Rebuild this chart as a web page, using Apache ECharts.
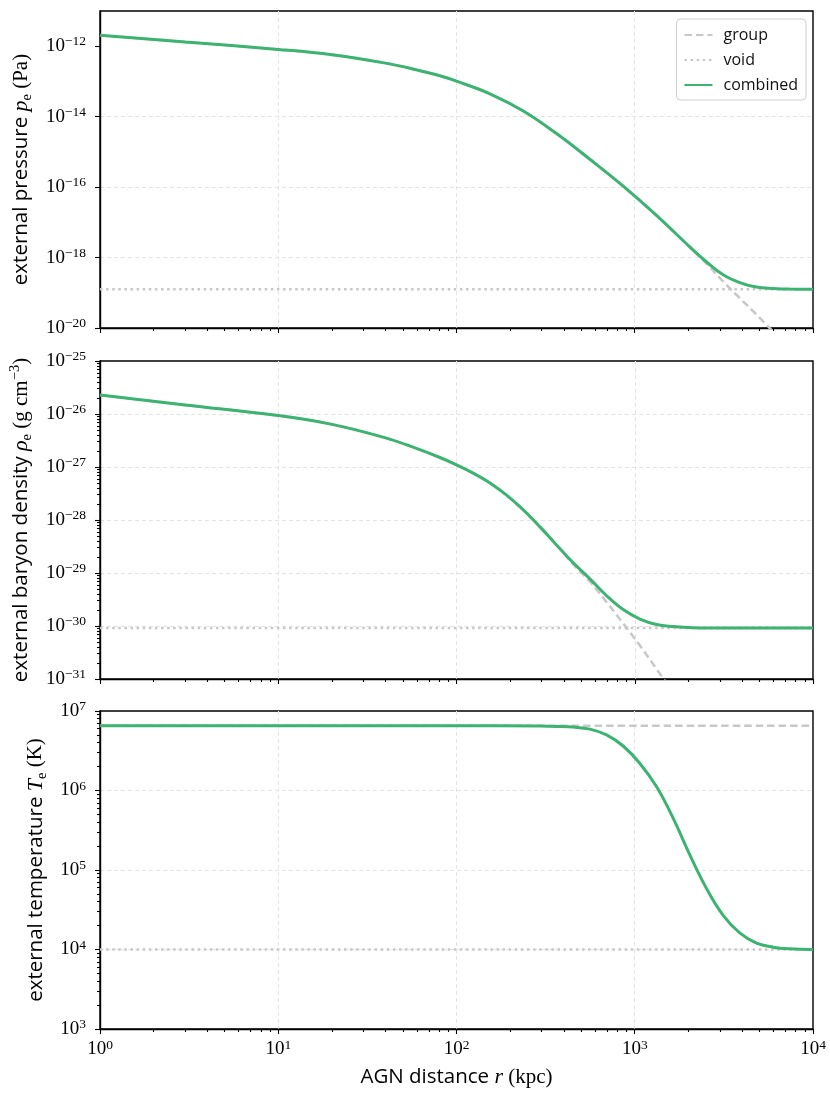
<!DOCTYPE html>
<html><head><meta charset="utf-8">
<script src="https://cdn.jsdelivr.net/npm/echarts@6/dist/echarts.min.js"></script>
<style>html,body{margin:0;padding:0;background:#fff}#c{width:830px;height:1107px}</style>
</head><body><div id="c"></div>
<script>
// ---------- data ----------
const xTickValues = [1, 10, 100, 1000, 10000];

const rPressure = [1, 3, 10, 20, 40, 58.5, 80.7, 100, 154, 237, 364, 560, 861, 1324, 2037, 2523, 3133, 3882, 4819, 5970, 7413, 10000];
const pressureCombined = [2.04e-12, 1.32e-12, 8.13e-13, 5.75e-13, 3.31e-13, 2.19e-13, 1.45e-13, 1.02e-13, 4.47e-14, 1.45e-14, 3.31e-15, 6.17e-16, 1.07e-16, 1.58e-17, 2.00e-18, 7.59e-19, 3.24e-19, 1.95e-19, 1.45e-19, 1.32e-19, 1.27e-19, 1.26e-19];
const rPressureGroup = [1, 3, 10, 20, 40, 58.5, 80.7, 100, 154, 237, 364, 560, 861, 1324, 2037, 2523, 3133, 3882, 4819, 5970];
const pressureGroup = [2.04e-12, 1.32e-12, 8.13e-13, 5.75e-13, 3.31e-13, 2.19e-13, 1.45e-13, 1.02e-13, 4.47e-14, 1.45e-14, 3.31e-15, 6.17e-16, 1.07e-16, 1.57e-17, 1.95e-18, 6.76e-19, 2.09e-19, 7.08e-20, 2.40e-20, 7.94e-21];
const rVoid = [1, 10000];
const pressureVoid = [1.26e-19, 1.26e-19];
const pressureTicks = [1e-20, 1e-18, 1e-16, 1e-14, 1e-12];

const rDensity = [1, 3, 10, 20, 40, 58.5, 80.7, 100, 124, 154, 191, 237, 294, 364, 452, 560, 695, 861, 1069, 1324, 1644, 2037, 2523, 10000];
const densityCombined = [2.29e-26, 1.48e-26, 9.33e-27, 6.38e-27, 3.55e-27, 2.29e-27, 1.51e-27, 1.10e-27, 7.67e-28, 5.01e-28, 2.95e-28, 1.55e-28, 7.41e-29, 3.39e-29, 1.55e-29, 7.76e-30, 3.72e-30, 2.04e-30, 1.35e-30, 1.07e-30, 9.77e-31, 9.33e-31, 9.12e-31, 9.12e-31];
const rDensityGroup = [1, 3, 10, 20, 40, 58.5, 80.7, 100, 124, 154, 191, 237, 294, 364, 452, 560, 695, 861, 1069, 1324, 1644];
const densityGroup = [2.29e-26, 1.48e-26, 9.33e-27, 6.38e-27, 3.55e-27, 2.29e-27, 1.51e-27, 1.10e-27, 7.67e-28, 5.01e-28, 2.95e-28, 1.55e-28, 7.41e-29, 3.39e-29, 1.45e-29, 6.92e-30, 2.82e-30, 1.12e-30, 4.27e-31, 1.55e-31, 5.5e-32];
const densityVoid = [9.12e-31, 9.12e-31];
const densityTicks = [1e-31, 1e-30, 1e-29, 1e-28, 1e-27, 1e-26, 1e-25];

const rTemperature = [1, 30, 100, 294, 364, 452, 560, 695, 861, 1069, 1324, 1644, 2037, 2523, 3133, 3882, 4819, 5970, 7413, 10000];
const temperatureCombined = [6.53e6, 6.53e6, 6.53e6, 6.46e6, 6.40e6, 6.27e6, 5.92e6, 5.01e6, 3.63e6, 2.19e6, 1.12e6, 4.47e5, 1.55e5, 5.89e4, 2.69e4, 1.62e4, 1.20e4, 1.07e4, 1.02e4, 1.0e4];
const temperatureGroup = [6.53e6, 6.53e6];
const temperatureVoid = [1e4, 1e4];
const temperatureTicks = [1e3, 1e4, 1e5, 1e6, 1e7];

const legendNames = ['group', 'void', 'combined'];

// ---------- styling / building ----------
const SANS = '"Open Sans", "Noto Sans", sans-serif';
const SERIF = '"Liberation Serif", "DejaVu Serif", serif';
const GREEN = '#3cb371';
const GRAY = '#c8c8c8';
const L = v => Math.log10(v);
const pairs = (xs, ys) => xs.map((x, i) => [x, L(ys[i])]);
const expStr = e => (e < 0 ? '\u2212' + (-e) : '' + e);
const minorsFromMajors = majors => {
  const out = [];
  for (let i = 0; i < majors.length - 1; i++) {
    const d = Math.round(L(majors[i]));
    for (let k = 2; k <= 9; k++) out.push(d + L(k));
  }
  return out;
};
const minorXs = (() => { const o = []; for (let i = 0; i < xTickValues.length - 1; i++) for (let k = 2; k <= 9; k++) o.push(k * xTickValues[i]); return o; })();

const grids = [
  { left: 100, top: 11, width: 713, height: 317 },
  { left: 100, top: 361, width: 713, height: 318 },
  { left: 100, top: 711, width: 713, height: 318 }
];

const tickRich = {
  b: { fontFamily: SERIF, fontSize: 19, lineHeight: 23, color: '#000' },
  s: { fontFamily: SERIF, fontSize: 13.5, lineHeight: 13, verticalAlign: 'top', color: '#000' }
};
const nameRich = {
  t: { fontFamily: SANS, fontSize: 20.5, lineHeight: 27, color: '#000' },
  m: { fontFamily: SERIF, fontStyle: 'italic', fontSize: 22, lineHeight: 27, color: '#000' },
  r: { fontFamily: SERIF, fontSize: 21, lineHeight: 27, color: '#000' },
  sub: { fontFamily: SERIF, fontSize: 14.5, lineHeight: 17, verticalAlign: 'bottom', color: '#000' },
  sup: { fontFamily: SERIF, fontSize: 14.5, lineHeight: 14, verticalAlign: 'top', color: '#000' }
};
const axisLineStyle = { color: '#000', width: 1.4 };
const tickLineStyle = { color: '#000', width: 1.1 };
const gridLineStyle = { color: '#e4e4e4', width: 1, type: [4, 3] };

const panels = [
  { min: -20, max: -11, interval: 2, ticks: pressureTicks, minor: false, nameGap: 63,
    name: '{t|external pressure }{m|p}{sub|e}{r| (Pa)}',
    group: pairs(rPressureGroup, pressureGroup), voidD: pairs(rVoid, pressureVoid), comb: pairs(rPressure, pressureCombined) },
  { min: -31, max: -25, interval: 1, ticks: densityTicks, minor: true, nameGap: 63,
    name: '{t|external baryon density }{m|\u03c1}{sub|e}{r| (g cm}{sup|\u22123}{r|)}',
    group: pairs(rDensityGroup, densityGroup), voidD: pairs(rVoid, densityVoid), comb: pairs(rDensity, densityCombined) },
  { min: 3, max: 7, interval: 1, ticks: temperatureTicks, minor: true, nameGap: 37,
    name: '{t|external temperature }{m|T}{sub|e}{r| (K)}',
    group: pairs(rVoid, temperatureGroup), voidD: pairs(rVoid, temperatureVoid), comb: pairs(rTemperature, temperatureCombined) }
];

const xAxes = [], yAxes = [], series = [];
panels.forEach((p, i) => {
  const last = i === 2;
  xAxes.push({
    type: 'log', logBase: 10, gridIndex: i, min: 1, max: 10000,
    axisLine: { onZero: false, lineStyle: axisLineStyle },
    axisTick: { show: true, length: 5, lineStyle: tickLineStyle, customValues: xTickValues },
    axisLabel: { show: last, margin: 9, customValues: xTickValues,
      formatter: v => '{b|10}{s|' + expStr(Math.round(L(v))) + '}', rich: tickRich },
    splitLine: { show: true, showMinLine: false, showMaxLine: false, lineStyle: gridLineStyle },
    name: last ? '{t|AGN distance }{m|r}{r| (kpc)}' : '',
    nameLocation: 'middle', nameGap: 35, nameTextStyle: { rich: nameRich }
  });
  const majors = p.ticks.map(v => Math.round(L(v)));
  yAxes.push({
    type: 'value', gridIndex: i, min: p.min, max: p.max, interval: p.interval,
    axisLine: { onZero: false, lineStyle: axisLineStyle },
    axisTick: { show: true, length: 5, lineStyle: tickLineStyle, customValues: majors },
    axisLabel: { margin: 14, customValues: majors,
      formatter: v => '{b|10}{s|' + expStr(Math.round(v)) + '}', rich: tickRich },
    splitLine: { show: true, showMinLine: false, showMaxLine: false, lineStyle: gridLineStyle },
    name: p.name, nameLocation: 'middle', nameRotate: 90, nameGap: p.nameGap,
    nameTextStyle: { rich: nameRich }
  });
  const sx = { xAxisIndex: i, yAxisIndex: i, type: 'line', showSymbol: false, symbol: 'none',
    clip: true, silent: true, animation: false };
  series.push(Object.assign({}, sx, { name: 'group', data: p.group, smooth: 0.4, z: 2,
    lineStyle: { color: GRAY, width: 2.5, type: [7.5, 4] }, itemStyle: { color: GRAY } }));
  series.push(Object.assign({}, sx, { name: 'void', data: p.voidD, z: 2,
    lineStyle: { color: GRAY, width: 2.5, type: [2.5, 3.6] }, itemStyle: { color: GRAY } }));
  series.push(Object.assign({}, sx, { name: 'combined', data: p.comb, smooth: 0.4, z: 3,
    lineStyle: { color: GREEN, width: 3 }, itemStyle: { color: GREEN } }));
});
// minor-tick helper axes (ticks only)
panels.forEach((p, i) => {
  xAxes.push({
    type: 'log', logBase: 10, gridIndex: i, min: 1, max: 10000, position: 'top', offset: -grids[i].height,
    axisLine: { show: false }, axisLabel: { show: false }, splitLine: { show: false },
    axisTick: { show: true, inside: true, length: 3, lineStyle: tickLineStyle, customValues: minorXs }
  });
  if (p.minor) {
    yAxes.push({
      type: 'value', gridIndex: i, min: p.min, max: p.max, position: 'right', offset: -grids[i].width,
      axisLine: { show: false }, axisLabel: { show: false }, splitLine: { show: false },
      axisTick: { show: true, inside: true, length: 3, lineStyle: tickLineStyle,
        customValues: minorsFromMajors(p.ticks) }
    });
  }
});

const chart = echarts.init(document.getElementById('c'));
chart.setOption({
  animation: false,
  backgroundColor: '#fff',
  grid: grids.map(g => Object.assign({ show: true, borderColor: '#000', borderWidth: 1.4, containLabel: false }, g)),
  legend: {
    data: legendNames, orient: 'vertical', right: 24, top: 19,
    itemWidth: 28, itemHeight: 14, itemGap: 7, padding: [7, 8, 6, 7],
    borderColor: '#d0d0d0', borderWidth: 1, borderRadius: 4, backgroundColor: '#fff',
    itemStyle: { opacity: 0, borderWidth: 0 },
    textStyle: { fontFamily: SANS, fontSize: 16, color: '#111', lineHeight: 18, padding: [0, 0, 0, 6] }
  },
  xAxis: xAxes,
  yAxis: yAxes,
  series: series
});
</script>
</body></html>
